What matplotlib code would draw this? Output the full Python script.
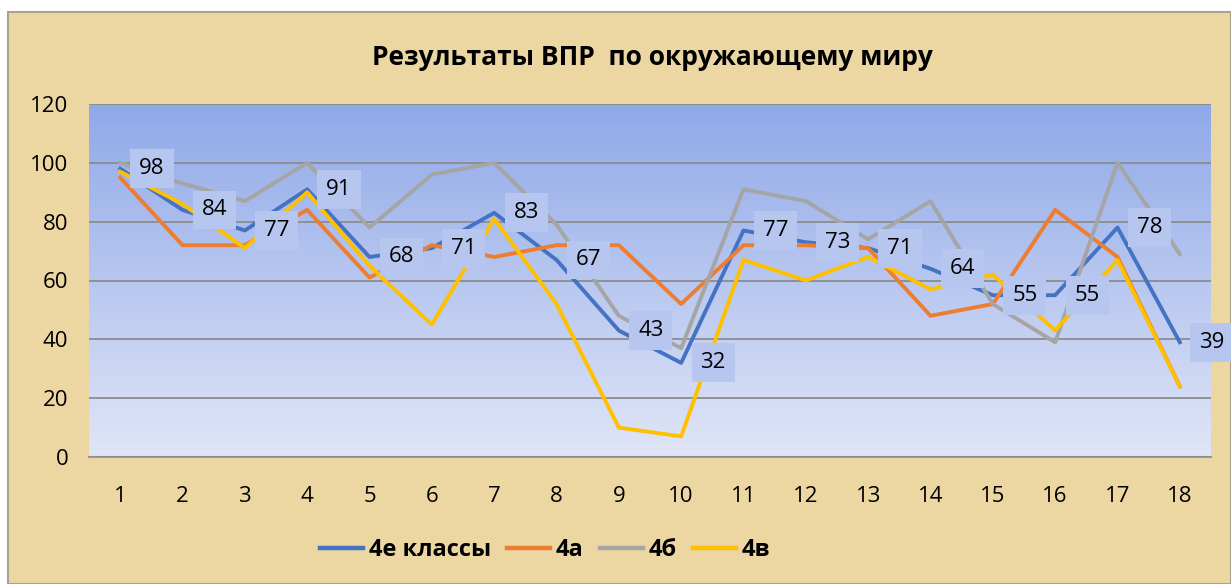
import matplotlib.pyplot as plt
import numpy as np
from matplotlib.patches import Rectangle

plt.rcParams['font.family'] = ['Open Sans', 'DejaVu Sans']

# data
tasks = list(range(1, 19))
all_4 = [98, 84, 77, 91, 68, 71, 83, 67, 43, 32, 77, 73, 71, 64, 55, 55, 78, 39]
cls_a = [95, 72, 72, 84, 61, 72, 68, 72, 72, 52, 72, 72, 71, 48, 52, 84, 68, 24]
cls_b = [100, 93, 87, 100, 78, 96, 100, 79, 48, 37, 91, 87, 74, 87, 52, 39, 100, 69]
cls_v = [97, 86, 71, 90, 65, 45, 81, 52, 10, 7, 67, 60, 68, 57, 62, 43, 67, 24]

series = [('4е классы', all_4, '#4472C4'),
          ('4а', cls_a, '#ED7D31'),
          ('4б', cls_b, '#A5A5A5'),
          ('4в', cls_v, '#FFC000')]

fig = plt.figure(figsize=(12.31, 5.84), dpi=100)
fig.patch.set_facecolor('white')
# parchment panel
fig.patches.append(Rectangle((8 / 1231, 0), 1 - 8 / 1231, 1 - 12 / 584,
                             transform=fig.transFigure, facecolor='#ecd7a3',
                             edgecolor='#a8a290', linewidth=1.5, zorder=-10))

ax = fig.add_axes([89 / 1231, 127 / 584, 1122 / 1231, 353 / 584])
ax.set_facecolor('none')

# gradient plot area
grad = np.linspace(0, 1, 256).reshape(-1, 1)
top = np.array([0.56, 0.66, 0.91])
bot = np.array([0.88, 0.90, 0.97])
img = top + (bot - top) * grad[:, :, None]
ax.imshow(img, extent=[0, 1, 0, 1], transform=ax.transAxes, aspect='auto', zorder=0)

for name, vals, col in series:
    ax.plot(tasks, vals, color=col, lw=2.8, label=name, zorder=3)

for x, v in zip(tasks, all_4):
    ax.annotate(str(v), (x, v), xytext=(23, 0), textcoords='offset points',
                ha='center', va='center', fontsize=16, color='black', zorder=5,
                annotation_clip=False,
                bbox=dict(boxstyle='square,pad=0.4', facecolor='#b7c6ef',
                          edgecolor='none'))

ax.set_xlim(0.5, 18.5)
ax.set_ylim(0, 120)
ax.set_xticks(tasks)
ax.set_yticks(range(0, 121, 20))
ax.grid(axis='y', color='#8c8c8c', lw=1.3, zorder=1)
ax.set_axisbelow(False)
for s in ['left', 'right', 'top']:
    ax.spines[s].set_visible(False)
ax.spines['bottom'].set_color('#9a9a9a')
ax.spines['bottom'].set_linewidth(1.5)
ax.tick_params(axis='both', length=0, labelsize=16)
ax.tick_params(axis='x', pad=21)
ax.tick_params(axis='y', pad=15)

fig.text(0.53, 0.902, 'Результаты ВПР  по окружающему миру', ha='center', va='center',
         fontsize=19, fontweight='bold')

leg = fig.legend(loc='center', bbox_to_anchor=(0.443, 0.058), ncol=4, frameon=False,
                 prop={'size': 17, 'weight': 'bold'}, handlelength=1.8,
                 columnspacing=0.7, handletextpad=0.25)
for h in leg.get_lines():
    h.set_linewidth(3.2)

fig.savefig('out.png', dpi=100)
